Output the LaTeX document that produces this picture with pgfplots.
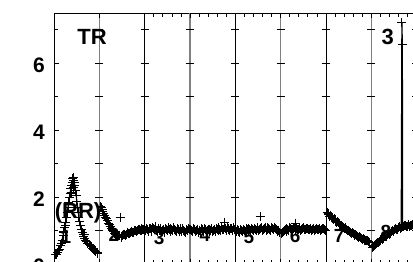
\documentclass[border=0pt]{standalone}
\usepackage{pgfplots}
\pgfplotsset{compat=1.18}
\usepackage{fontspec}
\setmainfont{Liberation Sans}
\pgfplotsset{dat/.style={black, line width=1.2pt, mark=+, mark size=4.5pt, mark options={line width=1pt, solid}}}
\begin{document}
\begin{tikzpicture}
\begin{axis}[
  at={(0,0)}, anchor=origin,
  x=45.33pt, y=33.5pt,
  xmin=0, xmax=8, ymin=0, ymax=7.5,
  axis line style={black, line width=0.8pt},
  xtick={2,4,6,8}, xticklabels={},
  minor x tick num=9,
  extra x ticks={1,3,5,7}, extra x tick labels={},
  extra x tick style={xmajorgrids=true, major grid style={black!50, line width=1.3pt}},
  xmajorgrids=true, ymajorgrids=false, major grid style={black, line width=0.9pt},
  ytick={0,2,4,6}, minor ytick={1,3,5,7},
  major tick length=5pt, minor tick length=4.5pt,
  tick style={black, line width=0.7pt},
  tick align=inside,
  /pgf/number format/assume math mode=true,
  yticklabel style={font=\fontsize{21}{25}\selectfont\bfseries, inner sep=0pt, xshift=-9pt, yshift=-2pt},
  clip=true,
]
% small horizontal ticks on grid lines
\foreach \i in {1,...,8} {
  \foreach \j in {1,...,7} {
    \edef\tmp{\noexpand\draw[black, line width=0.7pt] (axis cs:\i,\j) ++(-4pt,0) -- ++(8pt,0);}
    \tmp
  }
}
% labels (under the data)
\node[font=\fontsize{22}{26}\selectfont\bfseries] at (axis cs:0.84,6.78) {TR};
\node[font=\fontsize{22}{26}\selectfont\bfseries] at (axis cs:7.36,6.78) {3};
\node[font=\fontsize{22}{26}\selectfont\bfseries] at (axis cs:0.53,1.55) {(RR)};
\node[font=\fontsize{19}{23}\selectfont\bfseries] at (axis cs:0.26,0.81) {1};
\node[font=\fontsize{19}{23}\selectfont\bfseries] at (axis cs:1.32,0.88) {2};
\node[font=\fontsize{19}{23}\selectfont\bfseries] at (axis cs:2.32,0.78) {3};
\node[font=\fontsize{19}{23}\selectfont\bfseries] at (axis cs:3.33,0.87) {4};
\node[font=\fontsize{19}{23}\selectfont\bfseries] at (axis cs:4.30,0.81) {5};
\node[font=\fontsize{19}{23}\selectfont\bfseries] at (axis cs:5.32,0.84) {6};
\node[font=\fontsize{19}{23}\selectfont\bfseries] at (axis cs:6.29,0.84) {7};
\node[font=\fontsize{19}{23}\selectfont\bfseries] at (axis cs:7.32,0.96) {8};
% segment 1
\addplot[dat] coordinates {(0.03,0.28)(0.08,0.35)(0.12,0.45)(0.16,0.62)(0.20,0.85)(0.24,1.10)(0.28,1.40)(0.31,1.70)(0.34,2.00)(0.37,2.25)(0.40,2.45)(0.43,2.60)(0.46,2.35)(0.49,2.05)(0.52,1.70)(0.55,1.40)(0.58,1.15)(0.62,0.95)(0.66,0.82)(0.70,0.72)(0.75,0.62)(0.80,0.55)(0.85,0.48)(0.90,0.42)(0.95,0.36)};
\addplot[dat, only marks] coordinates {(0.055,0.30)(0.10,0.42)(0.14,0.55)(0.18,0.72)(0.22,0.98)(0.26,1.25)(0.295,1.55)(0.325,1.85)(0.355,2.10)(0.385,2.35)(0.415,2.55)(0.445,2.45)(0.475,2.20)(0.505,1.88)(0.535,1.55)(0.565,1.28)(0.60,1.05)(0.64,0.88)(0.68,0.77)(0.725,0.67)(0.775,0.58)(0.825,0.52)(0.875,0.45)(0.925,0.39)(0.97,0.33)(0.22,0.95)(0.26,1.15)(0.38,2.15)(0.42,2.30)(0.44,2.50)(0.60,1.05)(0.68,0.90)};
% segment 2
\addplot[dat] coordinates {(1.02,1.72)(1.06,1.62)(1.10,1.52)(1.14,1.40)(1.18,1.30)(1.22,1.18)(1.26,1.08)(1.30,1.00)(1.34,0.93)(1.38,0.88)(1.42,0.85)(1.48,0.84)(1.52,0.86)(1.56,0.90)(1.60,0.88)(1.64,0.93)(1.68,0.95)(1.72,0.99)(1.76,0.96)(1.80,1.01)(1.84,1.00)(1.88,1.04)(1.92,1.02)(1.96,1.05)};
\addplot[dat, only marks] coordinates {(1.46,1.40)(1.04,1.68)(1.08,1.57)(1.12,1.45)(1.16,1.36)(1.20,1.23)(1.24,1.14)(1.28,1.03)(1.32,0.97)(1.36,0.90)(1.40,0.82)(1.44,0.87)(1.50,0.80)(1.54,0.90)(1.58,0.85)(1.62,0.95)(1.66,0.91)(1.70,0.98)(1.74,0.94)(1.78,1.02)(1.82,0.97)(1.86,1.05)(1.90,1.00)(1.94,1.07)(1.98,1.03)};
% segment 3
\addplot[dat] coordinates {(2.02,1.00)(2.06,1.05)(2.10,1.08)(2.14,1.03)(2.18,1.10)(2.22,1.04)(2.26,1.00)(2.30,1.06)(2.34,1.02)(2.38,0.97)(2.42,1.03)(2.46,1.07)(2.50,1.00)(2.54,1.04)(2.58,1.08)(2.62,1.01)(2.66,1.05)(2.70,0.98)(2.74,1.03)(2.78,1.06)(2.82,0.99)(2.86,1.02)(2.90,0.96)(2.94,1.01)(2.98,1.03)};
\addplot[dat, only marks] coordinates {(2.04,1.08)(2.08,0.99)(2.12,1.06)(2.16,0.98)(2.20,1.07)(2.24,1.12)(2.28,0.97)(2.32,1.02)(2.36,1.08)(2.40,1.00)(2.44,0.96)(2.48,1.04)(2.52,1.09)(2.56,0.99)(2.60,1.03)(2.64,1.09)(2.68,1.00)(2.72,1.06)(2.76,0.99)(2.80,1.04)(2.84,1.08)(2.88,0.98)(2.92,1.04)(2.96,1.07)};
% segment 4
\addplot[dat] coordinates {(3.02,1.03)(3.06,0.98)(3.10,1.04)(3.14,1.01)(3.18,0.96)(3.22,1.02)(3.26,1.06)(3.30,0.99)(3.34,1.03)(3.38,1.00)(3.42,1.05)(3.46,1.02)(3.50,0.97)(3.54,1.04)(3.58,1.07)(3.62,1.01)(3.66,1.05)(3.70,1.09)(3.74,1.03)(3.78,1.06)(3.82,1.10)(3.86,1.04)(3.90,1.08)(3.94,1.02)(3.98,1.05)};
\addplot[dat, only marks] coordinates {(3.77,1.26)(3.04,1.00)(3.08,1.06)(3.12,0.97)(3.16,1.04)(3.20,1.00)(3.24,0.97)(3.28,1.03)(3.32,1.07)(3.36,0.98)(3.40,1.04)(3.44,0.99)(3.48,1.06)(3.52,1.02)(3.56,0.99)(3.60,1.05)(3.64,1.09)(3.68,1.02)(3.72,1.05)(3.76,1.10)(3.80,1.02)(3.84,1.07)(3.88,1.01)(3.92,1.06)(3.96,1.09)};
% segment 5
\addplot[dat] coordinates {(4.02,0.97)(4.06,1.01)(4.10,0.95)(4.14,1.00)(4.18,1.04)(4.22,0.98)(4.26,1.03)(4.30,1.06)(4.34,1.01)(4.38,1.05)(4.42,1.08)(4.46,1.02)(4.50,1.06)(4.54,1.03)(4.58,1.09)(4.62,1.05)(4.66,1.11)(4.70,1.04)(4.74,1.08)(4.78,1.02)(4.82,1.06)(4.86,1.10)(4.90,1.03)(4.94,0.99)(4.98,0.95)};
\addplot[dat, only marks] coordinates {(4.55,1.42)(4.04,1.03)(4.08,0.98)(4.12,1.03)(4.16,0.97)(4.20,1.01)(4.24,1.06)(4.28,0.99)(4.32,1.03)(4.36,1.08)(4.40,1.01)(4.44,1.05)(4.48,1.09)(4.52,1.00)(4.56,1.06)(4.60,1.02)(4.64,1.07)(4.68,1.02)(4.72,1.10)(4.76,1.05)(4.80,1.09)(4.84,1.03)(4.88,1.06)(4.92,1.00)(4.96,1.02)};
% segment 6
\addplot[dat] coordinates {(5.02,0.92)(5.06,0.98)(5.10,1.03)(5.14,1.07)(5.18,1.02)(5.22,1.08)(5.26,1.05)(5.30,1.10)(5.34,1.06)(5.38,1.03)(5.42,1.08)(5.46,1.05)(5.50,1.09)(5.54,1.04)(5.58,1.07)(5.62,1.03)(5.66,1.08)(5.70,1.05)(5.74,1.02)(5.78,1.06)(5.82,1.03)(5.86,1.07)(5.90,1.04)(5.94,1.06)(5.98,1.02)};
\addplot[dat, only marks] coordinates {(5.32,1.23)(5.04,0.96)(5.08,1.01)(5.12,0.99)(5.16,1.04)(5.20,1.10)(5.24,1.03)(5.28,1.07)(5.32,1.04)(5.36,1.09)(5.40,1.05)(5.44,1.02)(5.48,1.07)(5.52,1.03)(5.56,1.08)(5.60,1.06)(5.64,1.05)(5.68,1.02)(5.72,1.08)(5.76,1.04)(5.80,1.08)(5.84,1.05)(5.88,1.02)(5.92,1.07)(5.96,1.04)};
% segment 7
\addplot[dat] coordinates {(6.03,1.55)(6.06,1.48)(6.10,1.46)(6.14,1.38)(6.18,1.37)(6.22,1.29)(6.26,1.27)(6.30,1.19)(6.34,1.17)(6.38,1.11)(6.42,1.09)(6.46,1.03)(6.50,1.01)(6.54,0.95)(6.58,0.94)(6.62,0.88)(6.66,0.88)(6.70,0.82)(6.74,0.82)(6.78,0.76)(6.82,0.77)(6.86,0.71)(6.90,0.72)(6.94,0.67)(6.97,0.66)};
\addplot[dat, only marks] coordinates {(6.045,1.52)(6.08,1.44)(6.12,1.43)(6.16,1.34)(6.20,1.33)(6.24,1.25)(6.28,1.24)(6.32,1.16)(6.36,1.14)(6.40,1.07)(6.44,1.06)(6.48,1.00)(6.52,0.98)(6.56,0.92)(6.60,0.91)(6.64,0.86)(6.68,0.85)(6.72,0.80)(6.76,0.79)(6.80,0.74)(6.84,0.74)(6.88,0.70)(6.92,0.70)(6.955,0.64)};
% segment 8
\addplot[dat] coordinates {(7.03,0.50)(7.06,0.56)(7.10,0.59)(7.14,0.66)(7.18,0.68)(7.22,0.76)(7.26,0.77)(7.30,0.85)(7.34,0.84)(7.38,0.92)(7.42,0.92)(7.46,1.00)(7.50,0.99)(7.54,1.06)(7.58,1.05)(7.62,1.12)(7.66,1.10)(7.675,7.22)(7.685,6.55)(7.69,1.14)(7.73,1.16)(7.77,1.12)(7.81,1.18)(7.85,1.13)(7.89,1.17)(7.93,1.14)};
\addplot[dat, only marks] coordinates {(7.045,0.53)(7.08,0.57)(7.12,0.63)(7.16,0.66)(7.20,0.72)(7.24,0.75)(7.28,0.81)(7.32,0.83)(7.36,0.89)(7.40,0.90)(7.44,0.97)(7.48,0.98)(7.52,1.03)(7.56,1.04)(7.60,1.09)(7.64,1.08)(7.71,1.12)(7.75,1.17)(7.79,1.14)(7.83,1.19)(7.87,1.15)(7.91,1.18)};
\end{axis}
\pgfresetboundingbox
\useasboundingbox (-54pt,2.25pt) rectangle (359pt,264.25pt);
\end{tikzpicture}
\end{document}
